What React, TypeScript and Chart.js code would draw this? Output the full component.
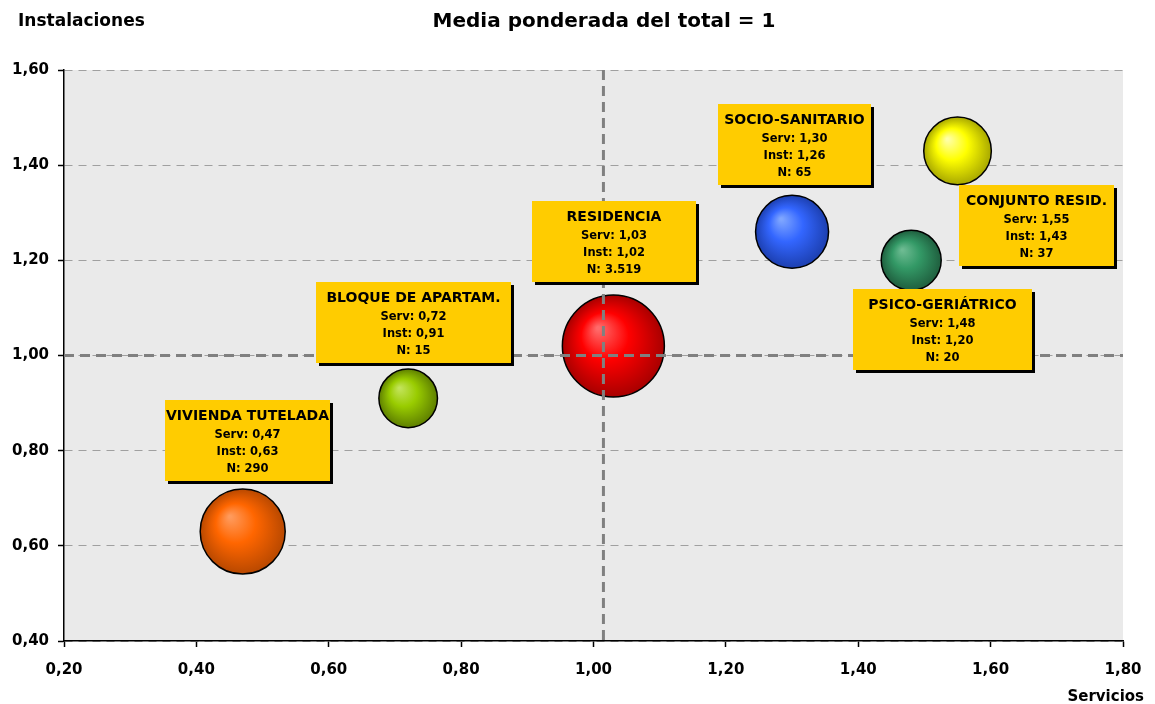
import React, { useEffect, useRef } from "react";
import { Chart, registerables } from "chart.js";

Chart.register(...registerables);

// ---- data ----
const CATEGORIES = [
  "VIVIENDA TUTELADA",
  "BLOQUE DE APARTAM.",
  "RESIDENCIA",
  "SOCIO-SANITARIO",
  "PSICO-GERIÁTRICO",
  "CONJUNTO RESID.",
];
const SERV = [0.47, 0.72, 1.03, 1.3, 1.48, 1.55];
const INST = [0.63, 0.91, 1.02, 1.26, 1.2, 1.43];
const N_LABELS = ["290", "15", "3.519", "65", "20", "37"];
const BUBBLE_RADIUS = [42.5, 29.3, 51, 36.5, 30, 33.8];
const REF_X = 1.015;
const REF_Y = 1.0;
const X_TICKS = { min: 0.2, max: 1.8, step: 0.2 };
const Y_TICKS = { min: 0.4, max: 1.6, step: 0.2 };

const TITLE = "Media ponderada del total = 1";
const Y_TITLE = "Instalaciones";
const X_TITLE = "Servicios";

// ---- styles ----
const BASE = ["#FF6600", "#99CC00", "#FF0000", "#3366FF", "#339966", "#FFFF00"];
const LIGHT = ["#FF9A5C", "#C2E35A", "#FF6A6A", "#7FA6FF", "#6DBB92", "#FFFFA8"];
const DARK = ["#B84800", "#5E7F00", "#A80000", "#1C3FB0", "#1F5E3E", "#A8A800"];
// label box layout: centre in data units, width in px
const LABEL_POS = [
  { x: 0.4772, y: 0.8224, w: 165 },
  { x: 0.728, y: 1.0698, w: 195 },
  { x: 1.031, y: 1.2396, w: 164 },
  { x: 1.3037, y: 1.4434, w: 153 },
  { x: 1.5273, y: 1.0546, w: 179 },
  { x: 1.6693, y: 1.2722, w: 155 },
];
const FONT = "'DejaVu Sans', Verdana, sans-serif";
const fmt = (v: number) => v.toFixed(2).replace(".", ",");

const bgPlugin = {
  id: "bg",
  beforeDraw(chart: any) {
    const { ctx, chartArea: a } = chart;
    ctx.save();
    ctx.fillStyle = "#EAEAEA";
    ctx.fillRect(a.left, a.top, a.right - a.left, a.bottom - a.top);
    ctx.restore();
  },
};

const overlayPlugin = {
  id: "overlay",
  afterDatasetsDraw(chart: any) {
    const { ctx, chartArea: a, scales } = chart;
    const xs = scales.x;
    const ys = scales.y;
    ctx.save();
    // reference lines
    ctx.strokeStyle = "#808080";
    ctx.lineWidth = 3;
    ctx.setLineDash([10, 6]);
    const rx = xs.getPixelForValue(REF_X);
    ctx.beginPath();
    ctx.moveTo(rx, a.top);
    ctx.lineTo(rx, a.bottom);
    ctx.stroke();
    const ry = ys.getPixelForValue(REF_Y);
    ctx.beginPath();
    ctx.moveTo(a.left, ry);
    ctx.lineTo(a.right, ry);
    ctx.stroke();
    ctx.setLineDash([]);
    // label boxes
    const h = 81;
    CATEGORIES.forEach((name, i) => {
      const p = LABEL_POS[i];
      const cx = xs.getPixelForValue(p.x);
      const cy = ys.getPixelForValue(p.y);
      const left = Math.round(cx - p.w / 2);
      const top = Math.round(cy - h / 2);
      ctx.fillStyle = "#000";
      ctx.fillRect(left + 3, top + 3, p.w, h);
      ctx.fillStyle = "#FFCC00";
      ctx.fillRect(left, top, p.w, h);
      ctx.fillStyle = "#000";
      ctx.textAlign = "center";
      ctx.textBaseline = "middle";
      ctx.font = `bold 14px ${FONT}`;
      ctx.fillText(name, left + p.w / 2, top + 16);
      ctx.font = `bold 11.5px ${FONT}`;
      ctx.fillText(`Serv: ${fmt(SERV[i])}`, left + p.w / 2, top + 35);
      ctx.fillText(`Inst: ${fmt(INST[i])}`, left + p.w / 2, top + 52);
      ctx.fillText(`N: ${N_LABELS[i]}`, left + p.w / 2, top + 69);
    });
    ctx.restore();
  },
  afterDraw(chart: any) {
    const { ctx } = chart;
    ctx.save();
    ctx.fillStyle = "#000";
    ctx.textBaseline = "middle";
    ctx.textAlign = "left";
    ctx.font = `bold 17px ${FONT}`;
    ctx.fillText(Y_TITLE, 18, 22);
    ctx.textAlign = "center";
    ctx.font = `bold 20px ${FONT}`;
    ctx.fillText(TITLE, 604, 22);
    ctx.textAlign = "right";
    ctx.font = `bold 15px ${FONT}`;
    ctx.fillText(X_TITLE, 1144, 697);
    ctx.restore();
  },
};

export default function App() {
  const ref = useRef<HTMLCanvasElement>(null);
  useEffect(() => {
    if (!ref.current) return;
    const chart = new Chart(ref.current, {
      type: "bubble",
      data: {
        datasets: [
          {
            label: "Tipos",
            data: SERV.map((x, i) => ({ x, y: INST[i], r: BUBBLE_RADIUS[i] })),
            borderColor: "#000",
            borderWidth: 1.5,
            backgroundColor: (c: any) => {
              const i = c.dataIndex;
              const chart = c.chart;
              if (i === undefined || !chart.chartArea) return BASE[i ?? 0];
              const cx = chart.scales.x.getPixelForValue(SERV[i]);
              const cy = chart.scales.y.getPixelForValue(INST[i]);
              const r = BUBBLE_RADIUS[i];
              const g = chart.ctx.createRadialGradient(cx - r * 0.3, cy - r * 0.35, r * 0.03, cx, cy, r);
              g.addColorStop(0, LIGHT[i]);
              g.addColorStop(0.45, BASE[i]);
              g.addColorStop(1, DARK[i]);
              return g;
            },
          } as any,
        ],
      },
      options: {
        animation: false,
        responsive: false,
        events: [],
        layout: { autoPadding: false, padding: { top: 70, right: 32, left: 0, bottom: 0 } },
        plugins: { legend: { display: false }, tooltip: { enabled: false }, title: { display: false } },
        scales: {
          x: {
            type: "linear",
            position: "bottom",
            min: X_TICKS.min,
            max: X_TICKS.max,
            afterFit: (s: any) => {
              s.height = 63;
              s.paddingLeft = 0;
              s.paddingRight = 0;
            },
            ticks: {
              stepSize: X_TICKS.step,
              callback: (v: any) => fmt(Number(v)),
              color: "#000",
              padding: 14,
              font: { family: FONT, size: 15, weight: "bold" },
              maxRotation: 0,
            },
            grid: { drawOnChartArea: false, drawTicks: true, tickLength: 6, tickColor: "#000", tickWidth: 1.5 },
            border: { display: true, color: "#000", width: 1.5 },
          },
          y: {
            type: "linear",
            min: Y_TICKS.min,
            max: Y_TICKS.max,
            afterFit: (s: any) => {
              s.width = 64;
              s.paddingTop = 0;
              s.paddingBottom = 0;
            },
            ticks: {
              stepSize: Y_TICKS.step,
              callback: (v: any) => fmt(Number(v)),
              color: "#000",
              padding: 9,
              font: { family: FONT, size: 15, weight: "bold" },
            },
            grid: {
              color: "#A0A0A0",
              lineWidth: 1,
              drawTicks: true,
              tickLength: 6,
              tickColor: "#000",
              tickWidth: 1.5,
              tickBorderDash: [],
            },
            border: { display: true, color: "#000", width: 1.5, dash: [8, 6] },
          },
        },
      } as any,
      plugins: [bgPlugin, overlayPlugin],
    });
    return () => chart.destroy();
  }, []);
  return (
    <div style={{ position: "absolute", left: 0, top: 0, width: 1155, height: 704, background: "#fff" }}>
      <canvas ref={ref} width={1155} height={704} />
    </div>
  );
}
